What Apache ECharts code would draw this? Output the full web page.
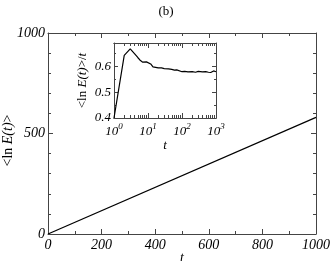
<!DOCTYPE html>
<html><head><meta charset="utf-8">
<script src="https://cdn.jsdelivr.net/npm/echarts@6/dist/echarts.min.js"></script>
<style>html,body{margin:0;padding:0;background:#fff}#c{width:332px;height:261px}</style>
</head><body><div id="c"></div>
<script>
// Main plot data
var mainT = [0, 1000];
var mainLnE = [0, 580];
var mainXTicks = [0, 200, 400, 600, 800, 1000];
var mainYTicks = [0, 500, 1000];
// Inset data
var insetT = [1, 2, 3, 4, 5, 6, 7, 8, 9, 10, 12, 14, 16, 20, 25, 30, 40, 50, 60, 70, 80, 100, 120, 150, 200, 250, 300, 400, 500, 600, 700, 750, 800, 850, 900, 950, 1000];
var insetV = [0.40, 0.642, 0.667, 0.649, 0.634, 0.622, 0.616, 0.621, 0.617, 0.622, 0.609, 0.598, 0.597, 0.594, 0.594, 0.591, 0.590, 0.588, 0.585, 0.586, 0.582, 0.579, 0.580, 0.578, 0.579, 0.577, 0.580, 0.578, 0.579, 0.577, 0.576, 0.583, 0.577, 0.582, 0.576, 0.583, 0.579];
var insetMajor = [1, 10, 100, 1000];
var insetMinor = [2,3,4,5,6,7,8,9,20,30,40,50,60,70,80,90,200,300,400,500,600,700,800,900];

var FONT = 'Liberation Serif';
var AX = '#444';
var chart = echarts.init(document.getElementById('c'), null, {renderer: 'canvas'});

function plain(v) { return String(Math.round(v * 100) / 100); }

function valAxis(opt) {
  return Object.assign({
    type: 'value',
    nameMoveOverlap: false,
    axisLine: {show: true, onZero: false, lineStyle: {color: AX, width: 1}},
    axisTick: {show: true, inside: true, length: 5, lineStyle: {color: AX}},
    minorTick: {show: true, splitNumber: 2, length: 3, lineStyle: {color: AX}},
    splitLine: {show: false},
    axisLabel: {fontFamily: FONT, fontStyle: 'italic', fontSize: 14, color: '#000', formatter: plain}
  }, opt);
}

var supRich = {
  b: {fontFamily: FONT, fontStyle: 'italic', fontSize: 13, color: '#000', verticalAlign: 'bottom', lineHeight: 16},
  s: {fontFamily: FONT, fontStyle: 'italic', fontSize: 9, color: '#000', verticalAlign: 'top', lineHeight: 16}
};

function logAxis(opt, ticks, len, labels) {
  return Object.assign({
    type: 'log', logBase: 10, min: 1, max: 1000, gridIndex: 1,
    nameMoveOverlap: false,
    axisLine: {show: true, onZero: false, lineStyle: {color: AX}},
    axisTick: {show: true, inside: true, length: len, customValues: ticks, lineStyle: {color: AX}},
    splitLine: {show: false},
    axisLabel: labels ? {
      customValues: insetMajor, margin: 4,
      formatter: function (v) { return '{b|10}{s|' + Math.round(Math.log10(v)) + '}'; },
      rich: supRich
    } : {show: false}
  }, opt);
}

var option = {
  backgroundColor: '#fff',
  animation: false,
  title: {text: '(b)', left: 'center', top: 0, textStyle: {fontFamily: FONT, fontWeight: 'normal', fontSize: 13, color: '#000'}},
  grid: [
    {left: 48, top: 33, width: 268, height: 201, containLabel: false, outerBoundsMode: 'none'},
    {left: 114, top: 43, width: 102, height: 75, show: true, backgroundColor: '#fff', borderWidth: 0, outerBoundsMode: 'none'}
  ],
  xAxis: [
    valAxis({gridIndex: 0, min: 0, max: 1000, interval: 200, position: 'bottom',
      name: 't', nameLocation: 'middle', nameGap: 17,
      nameTextStyle: {fontFamily: FONT, fontStyle: 'italic', fontSize: 14, color: '#000'},
      axisLabel: {fontFamily: FONT, fontStyle: 'italic', fontSize: 14, color: '#000', margin: 4, formatter: plain}}),
    valAxis({gridIndex: 0, min: 0, max: 1000, interval: 200, position: 'top', axisLabel: {show: false}}),
    logAxis({position: 'bottom', name: 't', nameLocation: 'middle', nameGap: 21,
      nameTextStyle: {fontFamily: FONT, fontStyle: 'italic', fontSize: 13, color: '#000'}}, insetMajor, 5, true),
    logAxis({position: 'bottom'}, insetMinor, 3, false),
    logAxis({position: 'top'}, insetMajor, 5, false),
    logAxis({position: 'top'}, insetMinor, 3, false)
  ],
  yAxis: [
    valAxis({gridIndex: 0, min: 0, max: 1000, interval: 500, position: 'left',
      minorTick: {show: true, splitNumber: 5, length: 3, lineStyle: {color: AX}},
      name: '{a|<ln }{b|E(t)}{a|>}', nameLocation: 'middle', nameGap: 33, nameRotate: 90,
      nameTextStyle: {padding: [0, 14, 0, 0], rich: {
        a: {fontFamily: FONT, fontSize: 14, color: '#000'},
        b: {fontFamily: FONT, fontStyle: 'italic', fontSize: 14, color: '#000'}
      }},
      axisLabel: {fontFamily: FONT, fontStyle: 'italic', fontSize: 14, color: '#000', margin: 3, formatter: plain}}),
    valAxis({gridIndex: 0, min: 0, max: 1000, interval: 500, position: 'right',
      minorTick: {show: true, splitNumber: 5, length: 3, lineStyle: {color: AX}},
      axisLabel: {show: false}}),
    valAxis({gridIndex: 1, min: 0.4, max: 0.69, interval: 0.1, position: 'left',
      name: '{a|<ln }{b|E(t)}{a|>/}{b|t}', nameLocation: 'middle', nameGap: 25, nameRotate: 90,
      nameTextStyle: {rich: {
        a: {fontFamily: FONT, fontSize: 13, color: '#000'},
        b: {fontFamily: FONT, fontStyle: 'italic', fontSize: 13, color: '#000'}
      }},
      axisTick: {show: true, inside: true, length: 4, lineStyle: {color: AX}},
      minorTick: {show: true, splitNumber: 2, length: 2, lineStyle: {color: AX}},
      axisLabel: {fontFamily: FONT, fontStyle: 'italic', fontSize: 13, color: '#000', margin: 3, showMaxLabel: false, formatter: plain}}),
    valAxis({gridIndex: 1, min: 0.4, max: 0.69, interval: 0.1, position: 'right',
      axisTick: {show: true, inside: true, length: 4, lineStyle: {color: AX}},
      minorTick: {show: true, splitNumber: 2, length: 2, lineStyle: {color: AX}},
      axisLabel: {show: false}})
  ],
  series: [
    {type: 'line', xAxisIndex: 0, yAxisIndex: 0, data: mainT.map(function (t, i) { return [t, mainLnE[i]]; }),
      showSymbol: false, symbol: 'none', lineStyle: {color: '#000', width: 1.2}},
    {type: 'line', xAxisIndex: 2, yAxisIndex: 2, data: insetT.map(function (t, i) { return [t, insetV[i]]; }),
      showSymbol: false, symbol: 'none', lineStyle: {color: '#000', width: 1.2}}
  ]
};
chart.setOption(option);
</script>
</body></html>
